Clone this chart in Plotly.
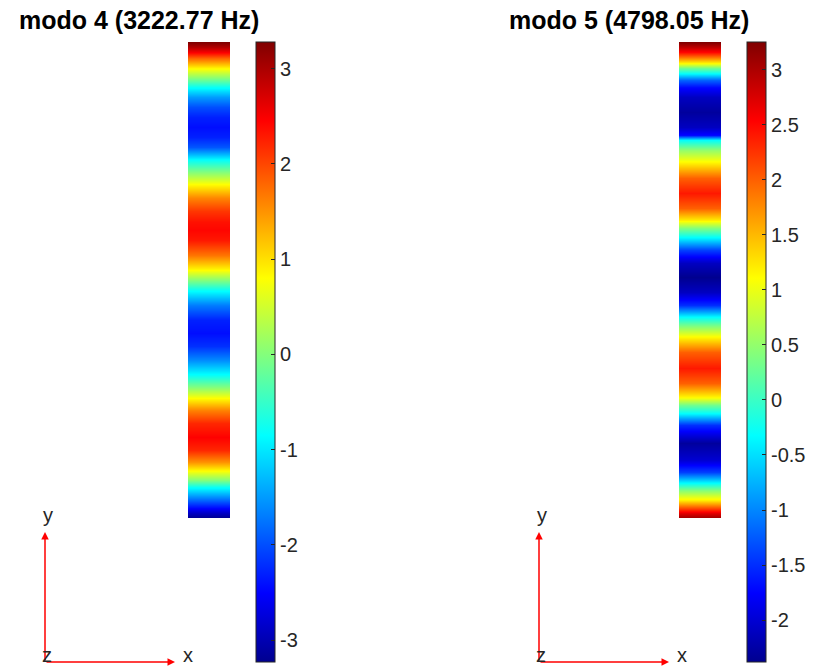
import plotly.graph_objects as go

# ---- data: mode shapes read along the plate length (mm from bottom edge) ----
plate_width = [0, 44]

pos_m4 = [500, 494.7, 489.5, 483.2, 472.7, 462.2, 452.7, 442.2, 431.7, 421.2,
          410.7, 400.2, 389.7, 376.1, 363.4, 349.8, 336.1, 322.5, 310.9, 302.5,
          292.0, 276.3, 260.5, 250.0, 239.5, 223.7, 208.0, 194.3, 180.7, 166.0,
          150.2, 137.6, 126.1, 113.4, 99.8, 85.1, 71.4, 58.8, 50.4, 39.9,
          32.6, 22.1, 11.6, 5.3, 0]
val_m4 = [3.28, 2.95, 2.5, 1.8, 0.84, 0.0, -0.8, -1.5, -2.0, -2.3,
          -2.42, -2.3, -1.95, -0.8, 0.0, 0.85, 1.6, 2.1, 2.35, 2.42,
          2.3, 1.7, 0.8, 0.0, -0.8, -1.7, -2.3, -2.42, -2.2, -1.6,
          -0.8, 0.0, 0.8, 1.6, 2.2, 2.45, 2.2, 1.5, 0.85, 0.0,
          -0.8, -1.6, -2.4, -2.9, -3.23]

pos_m5 = [500, 494.7, 489.5, 484.2, 478.0, 472.7, 467.4, 460.1, 452.7, 442.2,
          426.5, 410.7, 402.3, 397.1, 386.6, 370.8, 357.1, 341.4, 325.6, 313.0,
          304.6, 295.2, 281.5, 267.9, 253.2, 237.4, 223.7, 211.1, 201.7, 190.1,
          174.4, 157.6, 141.8, 127.1, 118.7, 110.3, 97.7, 78.8, 60.9, 48.3,
          36.8, 29.4, 18.9, 11.6, 5.3, 0]
val_m5 = [3.25, 2.9, 2.5, 1.9, 1.14, 0.3, -0.27, -1.2, -1.7, -2.1,
          -2.3, -2.1, -1.7, -0.3, 0.5, 1.3, 2.0, 2.4, 2.0, 1.2,
          0.4, -0.3, -1.4, -2.1, -2.38, -2.1, -1.5, -0.3, 0.4, 1.14,
          2.0, 2.4, 2.0, 1.14, 0.3, -0.3, -1.5, -2.3, -2.0, -1.4,
          -0.3, 0.4, 1.2, 2.0, 2.7, 3.1]

titles = ["modo 4 (3222.77 Hz)", "modo 5 (4798.05 Hz)"]
ticks_m4 = [-3, -2, -1, 0, 1, 2, 3]
ticks_m5 = [-2, -1.5, -1, -0.5, 0, 0.5, 1, 1.5, 2, 2.5, 3]

W, H = 817, 666
jet = [[0.0, "rgb(0,0,143)"], [0.111, "rgb(0,0,255)"], [0.365, "rgb(0,255,255)"],
       [0.619, "rgb(255,255,0)"], [0.873, "rgb(255,0,0)"], [1.0, "rgb(128,0,0)"]]
FONT = "Liberation Sans, Arial, Helvetica, sans-serif"
TXT = "#262626"

fig = go.Figure()

panels = [
    dict(pos=pos_m4, val=val_m4, ticks=ticks_m4, x0=188, cbx=256, title_cx=139, triad_dx=0),
    dict(pos=pos_m5, val=val_m5, ticks=ticks_m5, x0=679, cbx=747, title_cx=629, triad_dx=494),
]

for i, p in enumerate(panels):
    sfx = "" if i == 0 else str(i + 1)
    z = [[v, v] for v in p["val"]]
    fig.add_trace(go.Heatmap(
        x=plate_width, y=p["pos"], z=z, zsmooth="best",
        colorscale=jet, zmin=min(p["val"]), zmax=max(p["val"]),
        xaxis="x" + sfx, yaxis="y" + sfx,
        colorbar=dict(
            x=p["cbx"] / W, xanchor="left", xpad=0, ypad=0,
            y=(H - 352) / H, yanchor="middle", len=620, lenmode="pixels",
            thickness=19, thicknessmode="pixels",
            outlinecolor=TXT, outlinewidth=1,
            tickmode="array", tickvals=p["ticks"],
            ticktext=[("%g" % t) for t in p["ticks"]],
            ticks="inside", ticklen=4, tickcolor=TXT, tickwidth=1,
            tickfont=dict(family=FONT, size=20, color=TXT),
        ),
        hoverinfo="skip",
    ))
    fig.layout["xaxis" + sfx] = dict(domain=[p["x0"] / W, (p["x0"] + 42) / W],
                                     range=plate_width, visible=False, anchor="y" + sfx)
    fig.layout["yaxis" + sfx] = dict(domain=[(H - 518) / H, (H - 42) / H],
                                     range=[0, 500], visible=False, anchor="x" + sfx)

    # title
    fig.add_annotation(text="<b>%s</b>" % titles[i], xref="paper", yref="paper",
                       x=p["title_cx"] / W, y=(H - 20) / H, xanchor="center", yanchor="middle",
                       showarrow=False, font=dict(family=FONT, size=25, color="black"))
    # axes triad
    dx = p["triad_dx"]
    ox, oy = 45 + dx, 662
    fig.add_annotation(x=ox / W, y=(H - 532) / H, xref="paper", yref="paper",
                       ax=0, ay=130, axref="pixel", ayref="pixel", text="",
                       showarrow=True, arrowhead=2, arrowsize=1, arrowwidth=1.5,
                       arrowcolor="red", standoff=0, startstandoff=0)
    fig.add_annotation(x=(ox + 130) / W, y=(H - oy) / H, xref="paper", yref="paper",
                       ax=-130, ay=0, axref="pixel", ayref="pixel", text="",
                       showarrow=True, arrowhead=2, arrowsize=1, arrowwidth=1.5,
                       arrowcolor="red", standoff=0, startstandoff=0)
    for lbl, lx, ly in [("y", ox + 3, 515), ("x", ox + 143, 655), ("z", ox + 2, 655)]:
        fig.add_annotation(text=lbl, xref="paper", yref="paper", x=lx / W, y=(H - ly) / H,
                           xanchor="center", yanchor="middle", showarrow=False,
                           font=dict(family=FONT, size=20, color=TXT))

fig.update_layout(width=W, height=H, margin=dict(l=0, r=0, t=0, b=0),
                  paper_bgcolor="white", plot_bgcolor="white", showlegend=False)

fig.write_html("out.html")
